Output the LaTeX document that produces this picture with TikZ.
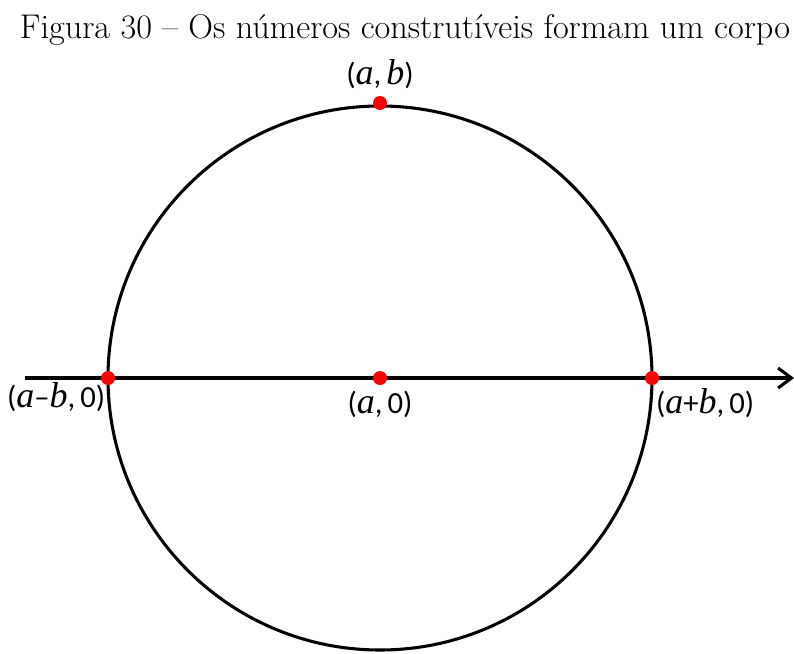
\documentclass[tikz,border=0pt]{standalone}
\usepackage{fontspec}
\newfontfamily\lblfont{Carlito}
\newfontfamily\lblital{Liberation Serif}
\usetikzlibrary{arrows.meta,positioning}
\newcommand{\va}{{\lblital\itshape\fontsize{27}{30}\selectfont a}}
\newcommand{\vb}{{\lblital\itshape\fontsize{27}{30}\selectfont b}}

\begin{document}
\begin{tikzpicture}[
    x=0.75pt, y=-0.75pt,
    curve/.style={line width=2.3pt},
    dot/.style={circle, fill=red, inner sep=0pt, minimum size=10.5pt},
    lbl/.style={font=\lblfont\fontsize{23}{27}\selectfont, inner sep=0pt}
]
    \useasboundingbox (0,0) rectangle (794,654);
    \node[font=\fontsize{25.7}{30}\selectfont] (title) at (405,30) {Figura 30 -- Os números construtíveis formam um corpo};

    % circle and axis
    \coordinate (c) at (380,378);
    \coordinate (start) at (25,378);
    \coordinate (end) at (794,378);
    \draw[curve] (c) circle[radius=272];
    \draw[curve, -{Straight Barb[length=10pt,width=15pt]}] (start) -- (end);

    % points
    \node[dot] (ab) at (380,103) {};
    \node[dot] (a0) at (c) {};
    \node[dot] (amb) at (108,378) {};
    \node[dot] (apb) at (652,378) {};

    \node[lbl, above=5pt of ab] (abl) {(\va,\,\vb)};
    \node[lbl, below=4pt of a0] (a0l) {(\va,\,0)};
    \node[lbl, below left=-1pt and -2pt of amb] (ambl) {(\va\textendash\vb,\,0)};
    \node[lbl, below right=4pt and -1pt of apb] (apbl) {(\va+\vb,\,0)};
\end{tikzpicture}
\end{document}
